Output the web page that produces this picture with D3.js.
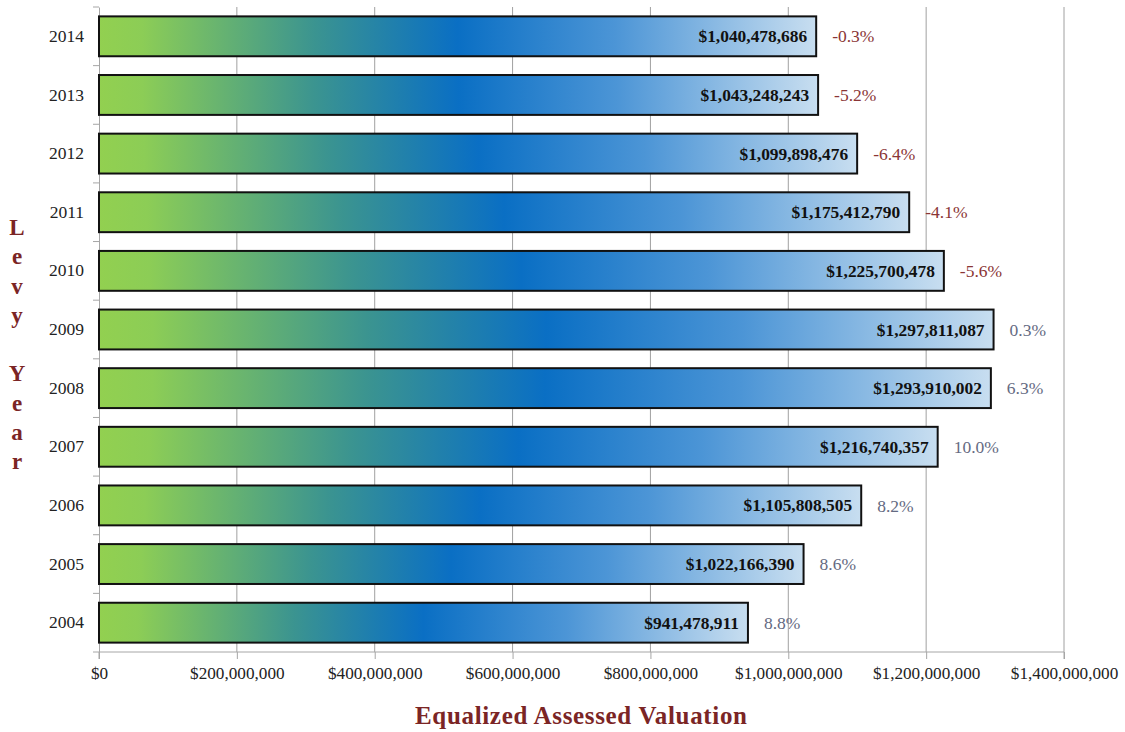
<!DOCTYPE html>
<html>
<head>
<meta charset="utf-8">
<script src="https://cdn.jsdelivr.net/npm/d3@7"></script>
<style>
  body { margin: 0; background: #fff; }
  svg { display: block; }
</style>
</head>
<body>
<div id="chart"></div>
<script>
const years = ["2014", "2013", "2012", "2011", "2010", "2009", "2008", "2007", "2006", "2005", "2004"];
const values = [1040478686, 1043248243, 1099898476, 1175412790, 1225700478, 1297811087,
                1293910002, 1216740357, 1105808505, 1022166390, 941478911];
const changes = [-0.3, -5.2, -6.4, -4.1, -5.6, 0.3, 6.3, 10.0, 8.2, 8.6, 8.8];
const xTicks = [0, 200000000, 400000000, 600000000, 800000000, 1000000000, 1200000000, 1400000000];

const width = 1125, height = 732;
const margin = {top: 7, right: 61, bottom: 80, left: 99};

const svg = d3.select("#chart").append("svg")
    .attr("width", width)
    .attr("height", height);

const x = d3.scaleLinear()
    .domain([0, 1400000000])
    .range([margin.left, width - margin.right]);

const y = d3.scaleBand()
    .domain(years)
    .range([margin.top, height - margin.bottom])
    .paddingInner(0.32)
    .paddingOuter(0.16);

const money = d => "$" + d3.format(",")(d);
const pct = d => (d < 0 ? "-" : "") + d3.format(".1f")(Math.abs(d)) + "%";

// gradient per bar (objectBoundingBox so each bar gets the full ramp)
const grad = svg.append("defs").append("linearGradient")
    .attr("id", "barGrad")
    .attr("x1", "0%").attr("x2", "100%").attr("y1", "0%").attr("y2", "0%");
[[0, "#92d050"], [0.06, "#8ccd56"], [0.3, "#3b9490"], [0.5, "#0a6fc4"], [0.72, "#4c95d6"], [1, "#c8def0"]]
    .forEach(([o, c]) => grad.append("stop").attr("offset", o).attr("stop-color", c));

// grid lines
svg.append("g").selectAll("line")
    .data(xTicks.slice(1))
    .join("line")
    .attr("x1", d => x(d)).attr("x2", d => x(d))
    .attr("y1", margin.top).attr("y2", height - margin.bottom)
    .attr("stroke", "#a0a0a0")
    .attr("stroke-width", 1);

// x axis
const xAxis = svg.append("g")
    .attr("transform", `translate(0,${height - margin.bottom})`)
    .call(d3.axisBottom(x).tickValues(xTicks).tickSize(7).tickPadding(8)
        .tickFormat(money));
xAxis.select(".domain").attr("stroke", "#a6a6a6").attr("d", `M${x(0)},7V0H${x(1400000000)}V7`);
xAxis.selectAll(".tick line").attr("stroke", "#a6a6a6");
xAxis.selectAll(".tick text")
    .attr("font-family", "Liberation Serif, serif")
    .attr("font-size", 17.2)
    .attr("fill", "#222");

// y axis
const yAxis = svg.append("g")
    .attr("transform", `translate(${margin.left},0)`)
    .call(d3.axisLeft(y).tickSize(0).tickPadding(15));
yAxis.select(".domain").attr("stroke", "#a6a6a6");
yAxis.selectAll(".tick text")
    .attr("font-family", "Liberation Serif, serif")
    .attr("font-size", 17.5)
    .attr("fill", "#222");
const step = y.step();
svg.append("g").selectAll("line")
    .data(d3.range(years.length + 1))
    .join("line")
    .attr("x1", margin.left - 6).attr("x2", margin.left)
    .attr("y1", i => margin.top + i * step).attr("y2", i => margin.top + i * step)
    .attr("stroke", "#a6a6a6");

// bars
const rows = years.map((yr, i) => ({year: yr, value: values[i], change: changes[i]}));

svg.append("g").selectAll("rect")
    .data(rows)
    .join("rect")
    .attr("x", x(0))
    .attr("y", d => y(d.year))
    .attr("width", d => x(d.value) - x(0))
    .attr("height", y.bandwidth())
    .attr("fill", "url(#barGrad)")
    .attr("stroke", "#111")
    .attr("stroke-width", 2);

// value labels
svg.append("g").selectAll("text")
    .data(rows)
    .join("text")
    .attr("x", d => x(d.value) - 9)
    .attr("y", d => y(d.year) + y.bandwidth() / 2)
    .attr("dy", "0.35em")
    .attr("text-anchor", "end")
    .attr("font-family", "Liberation Serif, serif")
    .attr("font-weight", "bold")
    .attr("font-size", 17.4)
    .attr("fill", "#111")
    .text(d => money(d.value));

// change labels
svg.append("g").selectAll("text")
    .data(rows)
    .join("text")
    .attr("x", d => x(d.value) + 16)
    .attr("y", d => y(d.year) + y.bandwidth() / 2)
    .attr("dy", "0.35em")
    .attr("font-family", "Liberation Serif, serif")
    .attr("font-size", 17.5)
    .attr("fill", d => d.change < 0 ? "#8a3535" : "#646a82")
    .text(d => pct(d.change));

// axis titles
svg.append("text")
    .attr("x", 581)
    .attr("y", 724)
    .attr("text-anchor", "middle")
    .attr("font-family", "Liberation Serif, serif")
    .attr("font-weight", "bold")
    .attr("font-size", 25)
    .attr("textLength", 332)
    .attr("lengthAdjust", "spacing")
    .attr("fill", "#7b2525")
    .text("Equalized Assessed Valuation");

const letters = ["L", "e", "v", "y", "", "Y", "e", "a", "r"];
svg.append("g").selectAll("text")
    .data(letters)
    .join("text")
    .attr("x", 17)
    .attr("y", (d, i) => 235 + i * 29.25)
    .attr("text-anchor", "middle")
    .attr("font-family", "Liberation Serif, serif")
    .attr("font-weight", "bold")
    .attr("font-size", 23)
    .attr("fill", "#7b2525")
    .text(d => d);
</script>
</body>
</html>
